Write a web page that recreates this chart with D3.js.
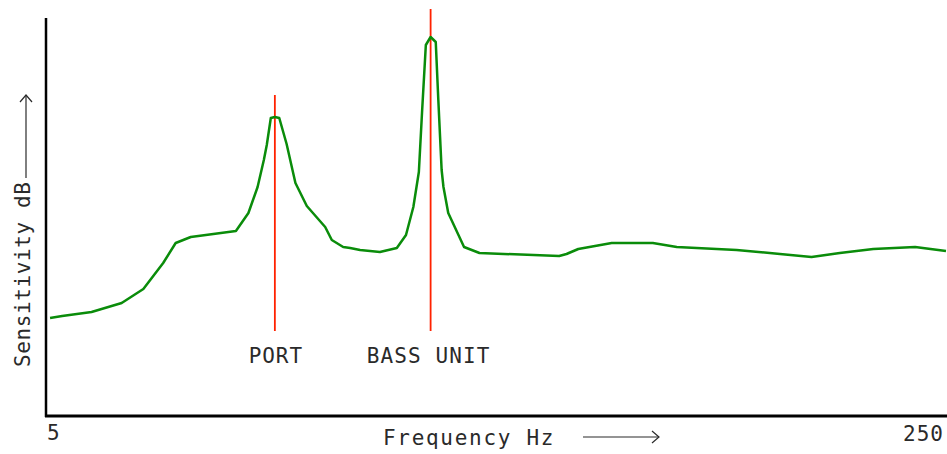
<!DOCTYPE html>
<html>
<head>
<meta charset="utf-8">
<script src="https://cdn.jsdelivr.net/npm/d3@7/dist/d3.min.js"></script>
<style>
html,body{margin:0;padding:0;background:#fff;}
svg{display:block;}
text{font-family:"DejaVu Sans Mono",monospace;font-size:21px;fill:#2a2a2a;}
</style>
</head>
<body>
<svg id="chart" width="947" height="454"></svg>
<script>
// Frequency (Hz) and relative sensitivity (dB)
const freqHz = [6.1, 9.4, 17.4, 25.6, 31.5, 36.9, 40.3, 44.4, 56.7, 60.1, 62.6, 64.3, 65.1, 66.2, 67.3, 68.5, 70.5, 72.9, 76.0, 81.0, 82.8, 85.9, 87.8, 90.5, 95.9, 100.5, 103.0, 105.0, 106.5, 107.4, 108.4, 109.7, 111.1, 111.8, 112.7, 113.2, 114.5, 118.8, 123.0, 144.7, 146.7, 149.9, 159.0, 170.2, 176.7, 193.0, 204.8, 213.4, 221.1, 230.2, 241.6, 250.0];
const sensitivityDb = [9.8, 10.0, 10.4, 11.3, 12.7, 15.3, 17.3, 17.9, 18.5, 20.3, 22.9, 25.6, 27.1, 29.8, 29.9, 29.8, 27.2, 23.3, 21.0, 18.9, 17.6, 16.9, 16.8, 16.6, 16.4, 16.8, 18.1, 20.9, 24.4, 30.6, 37.1, 37.9, 37.4, 31.6, 24.6, 22.9, 20.3, 16.9, 16.3, 16.0, 16.2, 16.7, 17.3, 17.3, 16.9, 16.6, 16.2, 15.9, 16.3, 16.7, 16.9, 16.5];
// Resonance markers
const markerNames = ["PORT", "BASS UNIT"];
const markerFreq = [67.3, 109.7];
const markerTopDb = [32.1, 40.7];
const markerBottomDb = 8.5;
const xTickLabels = ["5", "250"];
const xDomain = [5, 250];
const xTitle = "Frequency Hz";
const yTitle = "Sensitivity dB";

const svg = d3.select("#chart");
const x = d3.scaleLinear().domain(xDomain).range([46, 946]);
const y = d3.scaleLinear().domain([0, 39.8]).range([416, 18]);

// axes
svg.append("line").attr("x1", x(5)).attr("x2", x(5)).attr("y1", y(0) + 1).attr("y2", y(39.8))
  .attr("stroke", "#000").attr("stroke-width", 2.5);
svg.append("line").attr("x1", x(5) - 1).attr("x2", 947).attr("y1", y(0)).attr("y2", y(0))
  .attr("stroke", "#000").attr("stroke-width", 3);

// markers
markerFreq.forEach((f, i) => {
  svg.append("line").attr("x1", x(f)).attr("x2", x(f))
    .attr("y1", y(markerTopDb[i])).attr("y2", y(markerBottomDb))
    .attr("stroke", "#ff2200").attr("stroke-width", 1.8);
});
svg.append("text").attr("x", x(markerFreq[0]) + 1).attr("y", 363).attr("text-anchor", "middle")
  .attr("letter-spacing", 0.9).text(markerNames[0]);
svg.append("text").attr("x", x(markerFreq[1]) - 2).attr("y", 363).attr("text-anchor", "middle")
  .attr("letter-spacing", 1.1).text(markerNames[1]);

// response curve
const line = d3.line().x((d, i) => x(freqHz[i])).y(d => y(d));
svg.append("path").datum(sensitivityDb).attr("d", line)
  .attr("fill", "none").attr("stroke", "#0a8c0a").attr("stroke-width", 2.5)
  .attr("stroke-linejoin", "round");

// tick labels
svg.append("text").attr("x", 47).attr("y", 440).attr("letter-spacing", 1).text(xTickLabels[0]);
svg.append("text").attr("x", 944).attr("y", 441).attr("text-anchor", "end").attr("letter-spacing", 1).text(xTickLabels[1]);

// x title + arrow
svg.append("text").attr("x", 383).attr("y", 445).attr("letter-spacing", 1.7).text(xTitle);
const arr = svg.append("g").attr("stroke", "#2a2a2a").attr("stroke-width", 1.2).attr("fill", "none");
arr.append("line").attr("x1", 583).attr("x2", 659).attr("y1", 437).attr("y2", 437);
arr.append("path").attr("d", "M652,431 L659,437 L652,443");

// y title + arrow
svg.append("text").attr("transform", "translate(30,367) rotate(-90)").attr("letter-spacing", 0.6).text(yTitle);
arr.append("line").attr("x1", 26).attr("x2", 26).attr("y1", 178).attr("y2", 95);
arr.append("path").attr("d", "M20,102 L26,95 L32,102");
</script>
</body>
</html>
